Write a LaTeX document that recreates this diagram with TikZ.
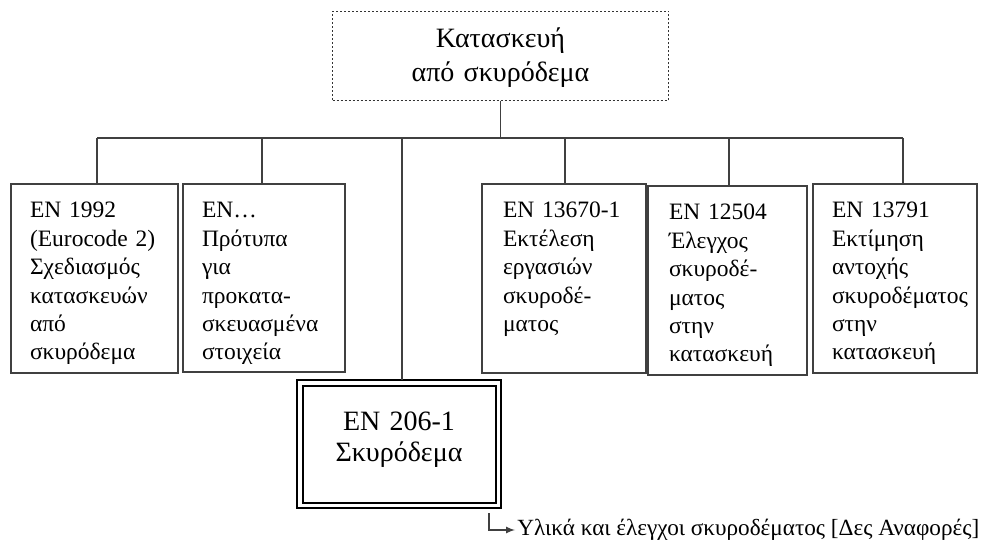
\documentclass[tikz,border=0pt]{standalone}
\usepackage{fontspec}
\setmainfont{Liberation Serif}
\usepackage{tikz}
\usetikzlibrary{arrows,shapes}
\usetikzlibrary{positioning}
\tikzset{std node/.style={draw=black!75,line width=0.65pt,rectangle,anchor=north west,align=left,
		inner ysep=0pt,outer sep=0pt,text height=17pt,font=\fontsize{11.75}{14.2}\selectfont},
	conn/.style={draw=black!75,line width=0.55pt},
}
\begin{document}
\begin{tikzpicture}[x=0.5pt,y=-0.5pt]
		\useasboundingbox (0,0) rectangle (984,544);
		\node[draw=black!80,dash pattern=on 1pt off 1pt,line width=0.5pt,anchor=north west,inner sep=0pt,
			text width=168pt,text height=18pt,text depth=26.5pt,align=center,
			font=\fontsize{14}{17}\selectfont] (top) at (332,11) {Κατασκευή\\από σκυρόδεμα};
		
		\node[std node,text width=64.5pt,inner xsep=9.5pt,text depth=77.5pt] (ec2) at (11,184)
			{EN 1992\\(Eurocode 2)\\Σχεδιασμός\\κατασκευών\\από\\σκυρόδεμα};
		\node[std node,text width=62pt,inner xsep=9.5pt,text depth=77pt] (pre) at (183,184)
			{EN…\\Πρότυπα\\για\\προκατα-\\σκευασμένα\\στοιχεία};
		\node[std node,text width=61pt,inner xsep=10.5pt,text depth=77.5pt] (exec) at (482,184)
			{EN 13670-1\\Εκτέλεση\\εργασιών\\σκυροδέ-\\ματος};
		\node[std node,text width=58.5pt,inner xsep=10.5pt,text depth=77.5pt] (test) at (648,186)
			{EN 12504\\Έλεγχος\\σκυροδέ-\\ματος\\στην\\κατασκευή};
		\node[std node,text width=63pt,inner xsep=9.5pt,text depth=77.5pt] (est) at (813,184)
			{EN 13791\\Εκτίμηση\\αντοχής\\σκυροδέματος\\στην\\κατασκευή};
		
		\node[draw=black,line width=1.4pt,anchor=north west,inner sep=0pt,outer sep=0pt,
			text width=102pt,text height=25.5pt,text depth=38.5pt,align=center,
			font=\fontsize{14}{15}\selectfont] (en206) at (297,380) {EN 206-1\\Σκυρόδεμα};
		\draw[line width=0.9pt] ([xshift=2.8pt,yshift=-2.9pt]en206.north west)
			rectangle ([xshift=-2.6pt,yshift=2.6pt]en206.south east);
		
		\node[anchor=west,inner sep=1pt,font=\fontsize{11.6}{13}\selectfont] (ref) at (515,530)
			{Υλικά και έλεγχοι σκυροδέματος [Δες Αναφορές]};
		
		%% bus
		\coordinate (d1) at (97,138);
		\coordinate (d2) at (262,138);
		\coordinate (d3) at (402,138);
		\coordinate (d4) at (565,138);
		\coordinate (d5) at (729,138);
		\coordinate (d6) at (903,138);
		\coordinate (hk) at (489,513);
		
		\path[conn]
		(top) edge (top.south |- d1)
		(d1) edge (d6)
		(d2) edge (d2 |- pre.north)
		(d3) edge (d3 |- en206.north)
		(d4) edge (d4 |- exec.north)
		(d5) edge (d5 |- test.north)
		(d6) edge (d6 |- est.north)
		;
		\draw[conn,line width=1.1pt] (d1) -- (d1 |- ec2.north);
		\draw[conn,-latex] (hk) |- (ref.west);
	\end{tikzpicture}
\end{document}
